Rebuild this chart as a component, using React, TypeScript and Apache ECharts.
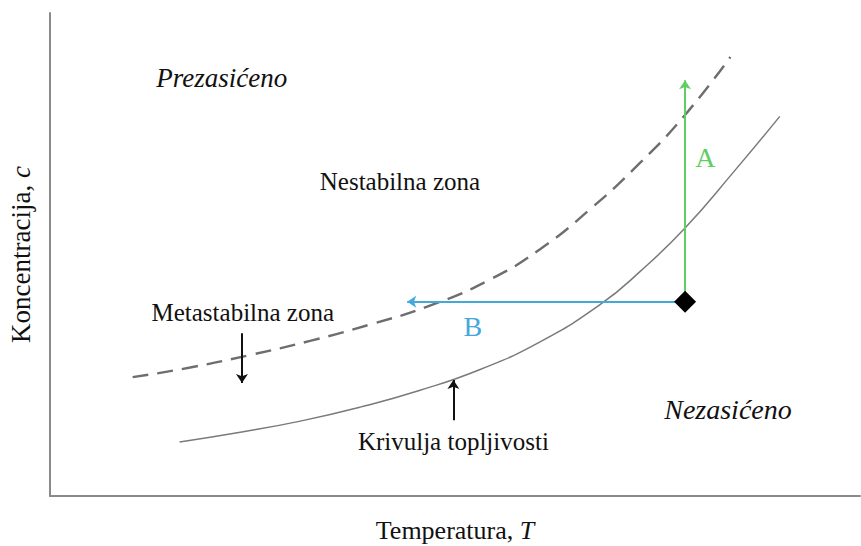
import React, { useEffect, useRef } from "react";
import * as echarts from "echarts";

// Solubility curve (solid) and supersolubility curve (dashed), data units 0..100
const solubilityX = [16.0, 23.5, 30.9, 38.3, 45.7, 53.1, 60.5, 67.9, 72.8, 78.4, 84.3, 90.1];
const solubilityY = [11.2, 13.2, 15.5, 18.4, 21.9, 26.2, 31.9, 39.6, 46.4, 55.5, 66.9, 78.6];
const superX = [10.2, 17.3, 24.7, 32.1, 39.5, 46.9, 54.3, 60.5, 66.7, 72.8, 78.4, 84.0];
const superY = [24.6, 26.6, 29.2, 32.1, 35.5, 39.4, 44.8, 51.1, 59.4, 68.9, 78.9, 90.9];

// State point and paths
const pointA = [78.4, 40.2];
const arrowATop = [78.4, 86.1];
const arrowBEnd = [44.1, 40.2];
const downArrow = [[23.7, 33.7], [23.7, 23.4]];
const upArrow = [[49.8, 15.7], [49.8, 24.0]];

const labels = [
  { text: "Prezasićeno", x: 21.2, y: 86.5, italic: true, color: "#111", size: 27 },
  { text: "Nestabilna zona", x: 43.2, y: 65.2, italic: false, color: "#111", size: 25 },
  { text: "Metastabilna zona", x: 23.8, y: 37.9, italic: false, color: "#111", size: 25 },
  { text: "Krivulja topljivosti", x: 49.8, y: 11.2, italic: false, color: "#111", size: 25 },
  { text: "Nezasićeno", x: 83.7, y: 18.0, italic: true, color: "#111", size: 28 },
  { text: "A", x: 80.9, y: 70.0, italic: false, color: "#5fcf63", size: 28 },
  { text: "B", x: 52.2, y: 35.0, italic: false, color: "#45a8dd", size: 28 },
];

const FONT = "'Liberation Serif', 'DejaVu Serif', serif";

export default function App() {
  const ref = useRef<HTMLDivElement>(null);
  useEffect(() => {
    if (!ref.current) return;
    const chart = echarts.init(ref.current, null, { renderer: "svg" });
    const zip = (xs: number[], ys: number[]) => xs.map((x, i) => [x, ys[i]]);
    chart.setOption({
      animation: false,
      backgroundColor: "#ffffff",
      grid: { left: 50, right: 1, top: 13, bottom: 50, containLabel: false, outerBoundsMode: "none" },
      xAxis: {
        type: "value",
        min: 0,
        max: 100,
        name: "Temperatura, {i|T}",
        nameLocation: "middle",
        nameGap: 21,
        nameTextStyle: {
          fontFamily: FONT,
          fontSize: 26,
          color: "#111",
          rich: { i: { fontStyle: "italic", fontFamily: FONT, fontSize: 26, color: "#111" } },
        },
        axisLine: { show: true, lineStyle: { color: "#8a8a8a", width: 2 } },
        axisTick: { show: false },
        axisLabel: { show: false },
        splitLine: { show: false },
      },
      yAxis: {
        type: "value",
        min: 0,
        max: 100,
        name: "Koncentracija, {i|c}",
        nameLocation: "middle",
        nameGap: 16,
        nameRotate: 90,
        nameTextStyle: {
          fontFamily: FONT,
          fontSize: 27,
          color: "#111",
          rich: { i: { fontStyle: "italic", fontFamily: FONT, fontSize: 27, color: "#111" } },
        },
        axisLine: { show: true, lineStyle: { color: "#8a8a8a", width: 2 } },
        axisTick: { show: false },
        axisLabel: { show: false },
        splitLine: { show: false },
      },
      series: [
        {
          type: "line",
          data: zip(solubilityX, solubilityY),
          smooth: 0.5,
          symbol: "none",
          lineStyle: { color: "#7a7a7a", width: 1.5 },
          z: 2,
        },
        {
          type: "line",
          data: zip(superX, superY),
          smooth: 0.5,
          symbol: "none",
          lineStyle: { color: "#6e6e6e", width: 2.4, type: [16, 9] },
          z: 2,
        },
        {
          type: "lines",
          coordinateSystem: "cartesian2d",
          symbol: ["none", "arrow"],
          symbolSize: 9,
          data: [{ coords: [pointA, arrowATop] }],
          lineStyle: { color: "#5fcf63", width: 2, opacity: 1 },
          z: 3,
        },
        {
          type: "lines",
          coordinateSystem: "cartesian2d",
          symbol: ["none", "arrow"],
          symbolSize: 9,
          data: [{ coords: [pointA, arrowBEnd] }],
          lineStyle: { color: "#45a8dd", width: 2, opacity: 1 },
          z: 3,
        },
        {
          type: "lines",
          coordinateSystem: "cartesian2d",
          symbol: ["none", "arrow"],
          symbolSize: 9,
          data: [{ coords: downArrow }, { coords: upArrow }],
          lineStyle: { color: "#111", width: 2, opacity: 1 },
          z: 3,
        },
        {
          type: "scatter",
          data: [pointA],
          symbol: "diamond",
          symbolSize: [22, 22],
          itemStyle: { color: "#000", opacity: 1, borderWidth: 0 },
          z: 4,
        },
        {
          type: "scatter",
          symbolSize: 0,
          data: labels.map((l) => ({
            value: [l.x, l.y],
            label: {
              show: true,
              position: "inside",
              formatter: l.text,
              fontFamily: FONT,
              fontSize: l.size,
              fontStyle: l.italic ? "italic" : "normal",
              color: l.color,
              opacity: 1,
            },
          })),
          itemStyle: { color: "transparent", opacity: 1 },
          z: 5,
        },
      ],
    });
    return () => chart.dispose();
  }, []);
  return (
    <div
      ref={ref}
      style={{ position: "absolute", left: 0, top: 0, width: 861, height: 546 }}
    />
  );
}
